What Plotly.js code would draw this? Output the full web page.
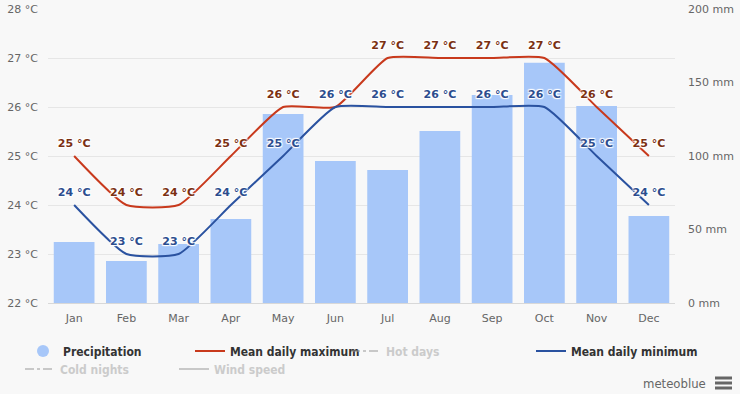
<!DOCTYPE html>
<html>
<head>
<meta charset="utf-8">
<script src="https://cdn.plot.ly/plotly-3.0.1.min.js"></script>
<style>
  html, body { margin: 0; padding: 0; background: #f8f8f8; }
  #chart { width: 740px; height: 394px; }
</style>
</head>
<body>
<div id="chart"></div>
<script>
const months = ['Jan', 'Feb', 'Mar', 'Apr', 'May', 'Jun', 'Jul', 'Aug', 'Sep', 'Oct', 'Nov', 'Dec'];
const precipitation = [41.5, 28.6, 40.1, 57.1, 128.6, 96.6, 90.5, 117, 141.5, 163.5, 134, 59.2];
const meanMax = [25, 24, 24, 25, 26, 26, 27, 27, 27, 27, 26, 25];
const meanMin = [24, 23, 23, 24, 25, 26, 26, 26, 26, 26, 25, 24];
const tempTicks = [22, 23, 24, 25, 26, 27, 28];
const precTicks = [0, 50, 100, 150, 200];

const labelFont = 'DejaVu Sans, sans-serif';
const legendFont = 'Liberation Sans Narrow, DejaVu Sans Condensed, Liberation Sans, sans-serif';
const halo = '-1px -1px 1px #fff, 1px -1px 1px #fff, -1px 1px 1px #fff, 1px 1px 1px #fff';

const traces = [
  {
    type: 'bar', x: months, y: precipitation, yaxis: 'y', name: 'Precipitation',
    marker: { color: '#a7c7f9' }, showlegend: false, hoverinfo: 'x+y'
  },
  {
    type: 'scatter', mode: 'lines+markers+text', x: months, y: meanMax, yaxis: 'y2', name: 'Mean daily maximum',
    line: { color: '#c8391c', width: 2, shape: 'spline', smoothing: 0.5 },
    marker: { size: 8, color: 'rgba(0,0,0,0)' },
    text: meanMax.map(v => v + ' °C'), textposition: 'top center',
    textfont: { family: labelFont, size: 11, color: '#7b3012', weight: 'bold', shadow: halo },
    legend: 'legend2'
  },
  {
    type: 'scatter', mode: 'lines+markers+text', x: months, y: meanMin, yaxis: 'y2', name: 'Mean daily minimum',
    line: { color: '#2a52a0', width: 2, shape: 'spline', smoothing: 0.5 },
    marker: { size: 8, color: 'rgba(0,0,0,0)' },
    text: meanMin.map(v => v + ' °C'), textposition: 'top center',
    textfont: { family: labelFont, size: 11, color: '#2c4d8e', weight: 'bold', shadow: halo },
    legend: 'legend4'
  },
  {
    type: 'scatter', mode: 'markers', x: [months[0]], y: [null], yaxis: 'y2', name: 'Precipitation',
    marker: { color: '#a7c7f9', size: 12, symbol: 'circle' }, legend: 'legend', hoverinfo: 'skip'
  },
  {
    type: 'scatter', mode: 'lines', x: [months[0]], y: [null], yaxis: 'y2', name: 'Hot days', visible: 'legendonly',
    line: { color: '#999', width: 2, dash: 'dashdot' }, legend: 'legend3'
  },
  {
    type: 'scatter', mode: 'lines', x: [months[0]], y: [null], yaxis: 'y2', name: 'Cold nights', visible: 'legendonly',
    line: { color: '#999', width: 2, dash: 'dashdot' }, legend: 'legend5'
  },
  {
    type: 'scatter', mode: 'lines', x: [months[0]], y: [null], yaxis: 'y2', name: 'Wind speed', visible: 'legendonly',
    line: { color: '#999', width: 2 }, legend: 'legend6'
  }
];

function leg(px, py, color) {
  return {
    x: px / 740, y: 1 - py / 394, xref: 'container', yref: 'container',
    xanchor: 'left', yanchor: 'middle', bgcolor: 'rgba(0,0,0,0)', borderwidth: 0,
    font: { family: legendFont, size: 12, color: color, weight: 'bold' },
    orientation: 'v', itemclick: false, itemdoubleclick: false
  };
}

const layout = {
  width: 740, height: 394,
  margin: { l: 48, r: 65, t: 9, b: 91, autoexpand: false },
  paper_bgcolor: '#f8f8f8', plot_bgcolor: '#f8f8f8',
  bargap: 0.22,
  showlegend: true,
  xaxis: {
    type: 'category', categoryarray: months, range: [-0.5, 11.5], autorange: false,
    showgrid: false, zeroline: false,
    showline: true, linecolor: '#d8d8d8', linewidth: 1, ticks: '', ticklabelstandoff: 5,
    tickfont: { family: labelFont, size: 11, color: '#666' }, fixedrange: true
  },
  yaxis: {
    range: [0, 200], tickvals: precTicks, ticktext: precTicks.map(v => v + ' mm'),
    side: 'right', showgrid: false, zeroline: false, ticks: '', ticklabelstandoff: 12,
    tickfont: { family: labelFont, size: 11, color: '#666' }, fixedrange: true
  },
  yaxis2: {
    range: [22, 28], tickvals: tempTicks, ticktext: tempTicks.map(v => v + ' °C'),
    overlaying: 'y', side: 'left', showgrid: true, gridcolor: '#e6e6e6', zeroline: false,
    ticks: '', ticklabelstandoff: 9,
    tickfont: { family: labelFont, size: 11, color: '#666' }, fixedrange: true
  },
  legend: leg(23, 351, '#333'),
  legend2: leg(190, 351, '#333'),
  legend3: leg(346, 351, '#a0a0a0'),
  legend4: leg(531, 351, '#333'),
  legend5: leg(20, 369, '#a0a0a0'),
  legend6: leg(174, 369, '#a0a0a0'),
  annotations: [{
    text: 'meteoblue', xref: 'paper', yref: 'paper',
    x: (708 - 48) / 627, y: (303 - 383) / 294, xanchor: 'right', yanchor: 'middle',
    showarrow: false, font: { family: legendFont, size: 13, color: '#666' }
  }],
  shapes: [378, 383, 388].map(py => ({
    type: 'line', xref: 'paper', yref: 'paper',
    x0: (715 - 48) / 627, x1: (732 - 48) / 627,
    y0: (303 - py) / 294, y1: (303 - py) / 294,
    line: { color: '#666', width: 3 }
  }))
};

Plotly.newPlot('chart', traces, layout, { displayModeBar: false });
</script>
</body>
</html>
